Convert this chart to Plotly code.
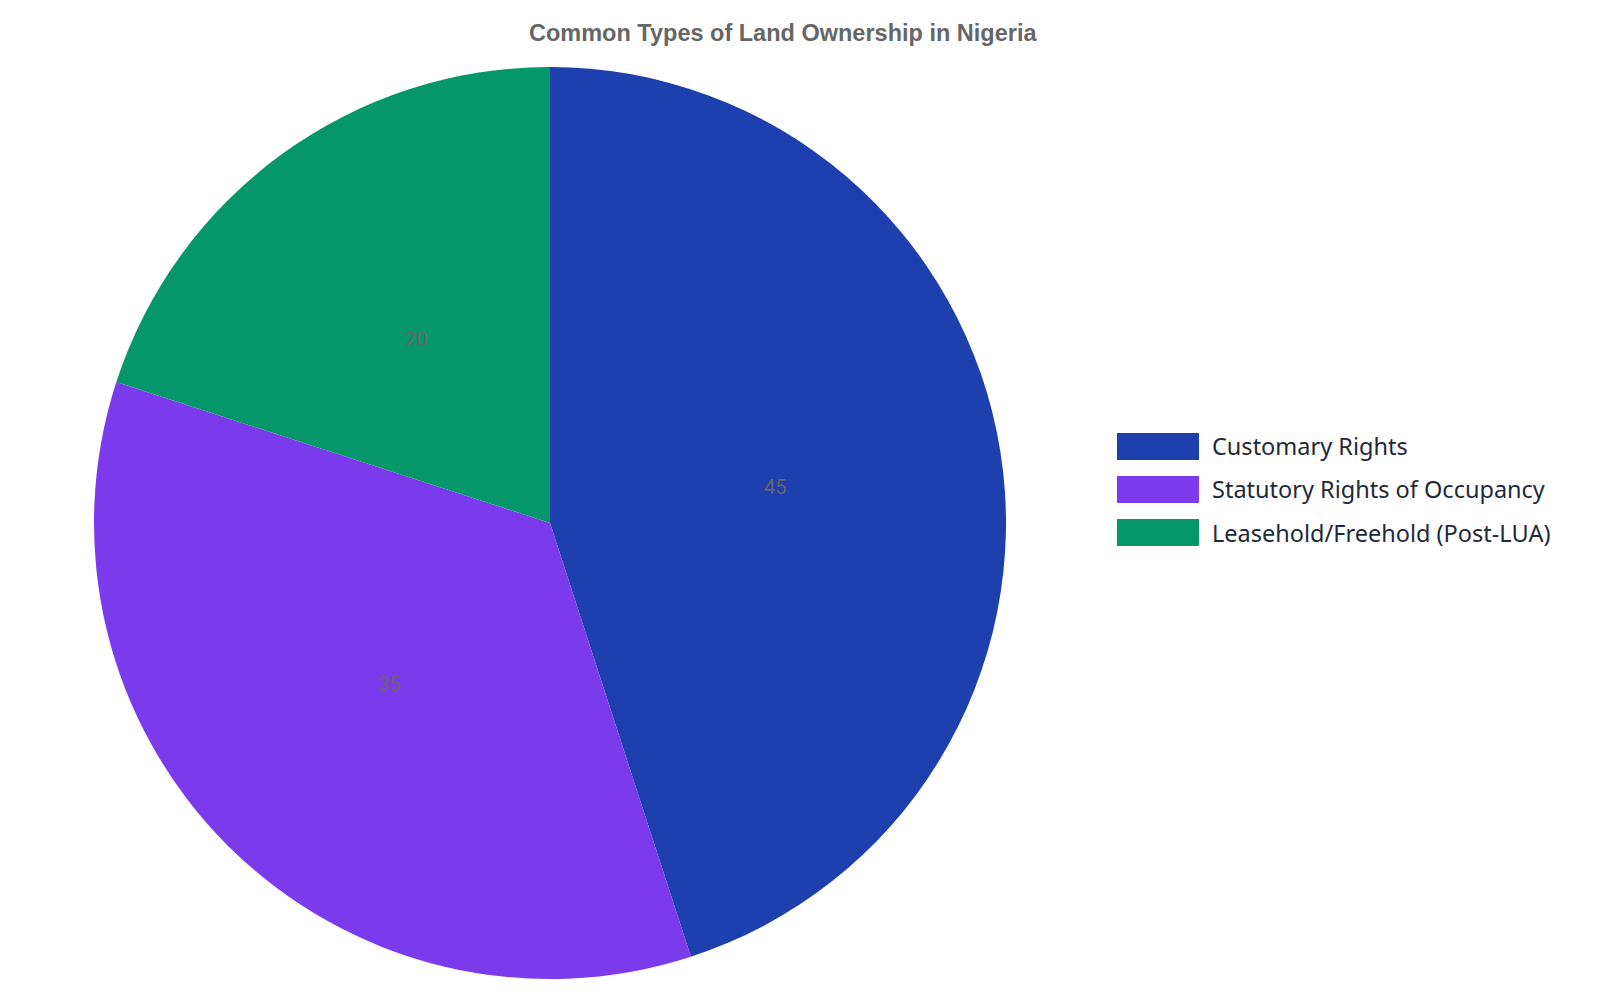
import math

import plotly.graph_objects as go

labels = ["Customary Rights", "Statutory Rights of Occupancy", "Leasehold/Freehold (Post-LUA)"]
values = [45, 35, 20]
colors = ["#1e40af", "#7c3aed", "#059669"]

# the page body has an 8px margin, so the figure is shrunk to fit the window
PAD = 8
W, H = 1600 - 2 * PAD, 1000 - 2 * PAD
cx, cy, r = 550, 523, 456  # pie centre and radius, page px


def px(x):
    return (x - PAD) / W


def py(y):
    return 1 - (y - PAD) / H


fig = go.Figure(
    go.Pie(
        labels=labels,
        values=values,
        marker=dict(colors=colors, line=dict(width=0)),
        sort=False,
        direction="clockwise",
        rotation=0,
        textinfo="none",
        hoverinfo="label+value",
        showlegend=False,
        domain=dict(x=[px(cx - r), px(cx + r)], y=[py(cy + r), py(cy - r)]),
    )
)

# value labels at half radius along each slice's middle angle
annotations = []
total = sum(values)
start = 0.0
for v in values:
    mid = (start + v / 2) / total * 2 * math.pi
    start += v
    annotations.append(
        dict(
            x=px(cx + 0.5 * r * math.sin(mid)), y=py(cy - 0.5 * r * math.cos(mid)),
            xref="paper", yref="paper", text=str(v), showarrow=False,
            xanchor="center", yanchor="middle",
            font=dict(family="Roboto", size=20, color="#666666"),
        )
    )

annotations.append(
    dict(
        x=px(783), y=py(33), xref="paper", yref="paper",
        xanchor="center", yanchor="middle",
        text="<b>Common Types of Land Ownership in Nigeria</b>", showarrow=False,
        font=dict(family="Liberation Sans", size=23.5, color="#666666"),
    )
)

# legend drawn by hand so the swatches can be wide
shapes = []
for n, (lab, col) in enumerate(zip(labels, colors)):
    top = 433 + n * 43
    shapes.append(
        dict(
            type="rect", xref="paper", yref="paper",
            x0=px(1117), x1=px(1199), y0=py(top + 27), y1=py(top),
            fillcolor=col, line=dict(width=0),
        )
    )
    annotations.append(
        dict(
            x=px(1210), y=py(top + 13.5), xref="paper", yref="paper",
            text=lab, showarrow=False, xanchor="left", yanchor="middle",
            font=dict(family="Noto Sans", size=23.5, color="#1f2937"),
        )
    )

fig.update_layout(
    width=W,
    height=H,
    margin=dict(l=0, r=0, t=0, b=0),
    paper_bgcolor="white",
    plot_bgcolor="white",
    annotations=annotations,
    shapes=shapes,
)

fig.write_html("out.html")
